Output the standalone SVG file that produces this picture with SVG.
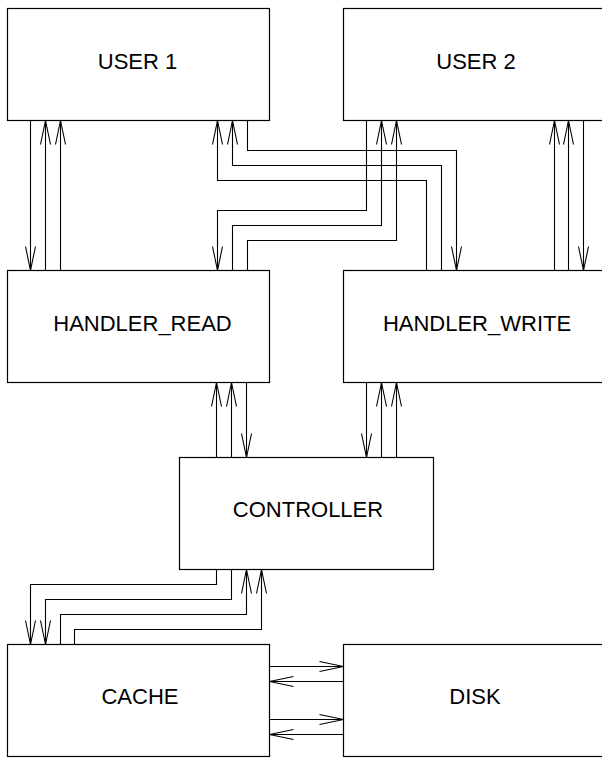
<svg xmlns="http://www.w3.org/2000/svg" width="602" height="759" viewBox="0 0 602 759">
<style>
.box{fill:#fff;stroke:#000;stroke-width:1.2}
.lbl{font-family:"Liberation Sans",Arial,sans-serif;font-size:22px;fill:#000;text-anchor:middle}
.c path{fill:none;stroke:#000;stroke-width:1.1;marker-end:url(#ah)}
</style>
<defs>
<marker id="ah" markerUnits="userSpaceOnUse" markerWidth="30" markerHeight="14" refX="0" refY="0" viewBox="-26 -7 28 14" orient="auto" overflow="visible">
<path d="M-24,-5 L0,0 L-24,5" fill="none" stroke="#000" stroke-width="1.1"/>
</marker>
</defs>
<rect width="602" height="759" fill="#fff"/>
<g id="user1"><rect class="box" x="7.5" y="8.5" width="262" height="112"/><text class="lbl" x="137.5" y="69">USER 1</text></g>
<g id="user2"><rect class="box" x="343.5" y="8.5" width="270" height="112"/><text class="lbl" x="476" y="69">USER 2</text></g>
<g id="handler_read"><rect class="box" x="7.5" y="270.5" width="262" height="112"/><text class="lbl" x="142.5" y="331">HANDLER_READ</text></g>
<g id="handler_write"><rect class="box" x="343.5" y="270.5" width="270" height="112"/><text class="lbl" x="477" y="331">HANDLER_WRITE</text></g>
<g id="controller"><rect class="box" x="179.5" y="457.5" width="254" height="112"/><text class="lbl" x="308" y="516.5">CONTROLLER</text></g>
<g id="cache"><rect class="box" x="7.5" y="644.5" width="262" height="112"/><text class="lbl" x="140" y="704">CACHE</text></g>
<g id="disk"><rect class="box" x="343.5" y="644.5" width="270" height="112"/><text class="lbl" x="475" y="704">DISK</text></g>
<g id="connectors" class="c">
<path d="M30.5,120.5 V270.5"/>
<path d="M45.5,270.5 V120.5"/>
<path d="M60.5,270.5 V120.5"/>
<path d="M247.5,120.5 V150.5 H456.5 V270.5"/>
<path d="M441.5,270.5 V165.5 H232.5 V120.5"/>
<path d="M426.5,270.5 V180.5 H217.5 V120.5"/>
<path d="M366.5,120.5 V210.5 H217.5 V270.5"/>
<path d="M232.5,270.5 V225.5 H381.5 V120.5"/>
<path d="M247.5,270.5 V240.5 H396.5 V120.5"/>
<path d="M554.5,270.5 V120.5"/>
<path d="M568.5,270.5 V120.5"/>
<path d="M583.5,120.5 V270.5"/>
<path d="M216.5,457.5 V382.5"/>
<path d="M231.5,457.5 V382.5"/>
<path d="M246.5,382.5 V457.5"/>
<path d="M366.5,382.5 V457.5"/>
<path d="M381.5,457.5 V382.5"/>
<path d="M396.5,457.5 V382.5"/>
<path d="M216.5,569.5 V584.5 H30.5 V644.5"/>
<path d="M231.5,569.5 V599.5 H45.5 V644.5"/>
<path d="M60.5,644.5 V614.5 H246.5 V569.5"/>
<path d="M74.5,644.5 V629.5 H261.5 V569.5"/>
<path d="M269.5,666.5 H343.5"/>
<path d="M343.5,681.5 H269.5"/>
<path d="M269.5,719.5 H343.5"/>
<path d="M343.5,734.5 H269.5"/>
</g>
</svg>
